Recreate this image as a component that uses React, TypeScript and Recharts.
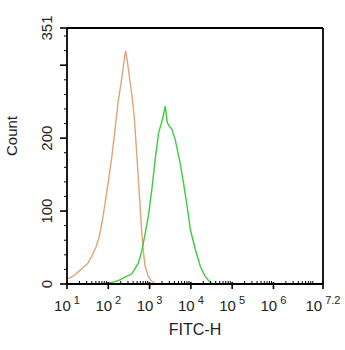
import { LineChart, Line, XAxis, YAxis, ReferenceLine } from 'recharts';

// x values are log10 of FITC-H intensity
const orangeX = [1.0, 1.1, 1.2, 1.3, 1.4, 1.5, 1.6, 1.7, 1.78, 1.85, 1.92, 2.0, 2.08, 2.16, 2.24, 2.32, 2.38, 2.42, 2.46, 2.52, 2.58, 2.63, 2.67, 2.71, 2.75, 2.8, 2.84, 2.89, 2.97, 3.05, 3.12, 3.18];
const orangeY = [7, 9, 13, 18, 23, 28, 38, 50, 65, 85, 110, 140, 172, 210, 250, 280, 305, 320, 306, 280, 255, 228, 195, 160, 125, 80, 50, 25, 10, 4, 1, 0];

const greenX = [2.0, 2.15, 2.29, 2.43, 2.57, 2.73, 2.81, 2.89, 2.97, 3.06, 3.14, 3.22, 3.3, 3.38, 3.43, 3.48, 3.54, 3.62, 3.74, 3.82, 3.91, 3.99, 4.11, 4.23, 4.35, 4.47, 4.55];
const greenY = [1, 3, 6, 10, 14, 29, 45, 68, 93, 132, 173, 208, 223, 244, 221, 216, 212, 198, 166, 139, 106, 74, 47, 24, 10, 2, 0];

const xMajor = [1, 2, 3, 4, 5, 6, 7.2];
const xLabels = ['1', '2', '3', '4', '5', '6', '7.2'];
const yMajor = [0, 100, 200, 300, 351];
const yLabels: Record<number, string> = { 0: '0', 100: '100', 200: '200', 351: '351' };

const orange = orangeX.map((x, i) => ({ x, v: orangeY[i] }));
const green = greenX.map((x, i) => ({ x, v: greenY[i] }));

const xMinor: number[] = [];
for (let d = 1; d < 7; d++) {
  for (let k = 2; k <= 9; k++) xMinor.push(d + Math.log10(k));
}
const xTicks = [...xMajor, ...xMinor].sort((a, b) => a - b);

const yMinor: number[] = [];
for (let v = 20; v < 351; v += 20) if (v % 100 !== 0) yMinor.push(v);
const yTicks = [...yMajor, ...yMinor].sort((a, b) => a - b);

const font = '"Liberation Sans", Arial, sans-serif';

function XTick(props: any) {
  const { x, y, payload } = props;
  const idx = xMajor.indexOf(payload.value);
  if (idx < 0) {
    return <line x1={x} x2={x} y1={y} y2={y - 3} stroke="#000" strokeWidth={1} />;
  }
  return (
    <g>
      <line x1={x} x2={x} y1={y - 2} y2={y + 5} stroke="#000" strokeWidth={1.6} />
      <text x={x} y={y + 27} textAnchor="middle" fontFamily={font} fontSize={15} fill="#222">
        <tspan>10</tspan>
        <tspan dx={3} dy={-7} fontSize={11}>{xLabels[idx]}</tspan>
      </text>
    </g>
  );
}

function YTick(props: any) {
  const { x, y, payload } = props;
  const major = yMajor.includes(payload.value);
  const label = yLabels[payload.value];
  return (
    <g>
      <line x1={x - (major ? 7 : 3)} x2={x} y1={y} y2={y} stroke="#000" strokeWidth={major ? 1.6 : 1} />
      {label && (
        <text
          x={x - 15}
          y={y}
          transform={`rotate(-90 ${x - 15} ${y})`}
          textAnchor="middle"
          fontFamily={font}
          fontSize={15}
          fill="#222"
        >
          {label}
        </text>
      )}
    </g>
  );
}

export default function App() {
  return (
    <div style={{ position: 'absolute', left: 0, top: 0, width: 345, height: 350, background: '#fff' }}>
      <LineChart width={345} height={350} margin={{ top: 28, right: 22, bottom: 0, left: 0 }}>
        <XAxis
          type="number"
          dataKey="x"
          domain={[1, 7.2]}
          ticks={xTicks}
          interval={0}
          tick={<XTick />}
          tickLine={false}
          tickSize={0}
          tickMargin={0}
          height={66}
          axisLine={{ stroke: '#000', strokeWidth: 1.8 }}
          allowDataOverflow
          label={{ value: 'FITC-H', position: 'insideBottom', offset: 15, fontFamily: font, fontSize: 16, fill: '#222' }}
        />
        <YAxis
          type="number"
          domain={[0, 351]}
          ticks={yTicks}
          interval={0}
          tick={<YTick />}
          tickLine={false}
          tickSize={0}
          tickMargin={0}
          width={67}
          axisLine={{ stroke: '#000', strokeWidth: 1.8 }}
          allowDataOverflow
          label={{ value: 'Count', angle: -90, position: 'insideLeft', offset: 12, fontFamily: font, fontSize: 15, fill: '#222' }}
        />
        <ReferenceLine y={351} stroke="#000" strokeWidth={1.8} />
        <ReferenceLine x={7.2} stroke="#000" strokeWidth={1.8} />
        <Line data={orange} dataKey="v" type="linear" stroke="#E0A47A" strokeWidth={1.4} dot={false} isAnimationActive={false} />
        <Line data={green} dataKey="v" type="linear" stroke="#3DCB3D" strokeWidth={1.4} dot={false} isAnimationActive={false} />
      </LineChart>
    </div>
  );
}
